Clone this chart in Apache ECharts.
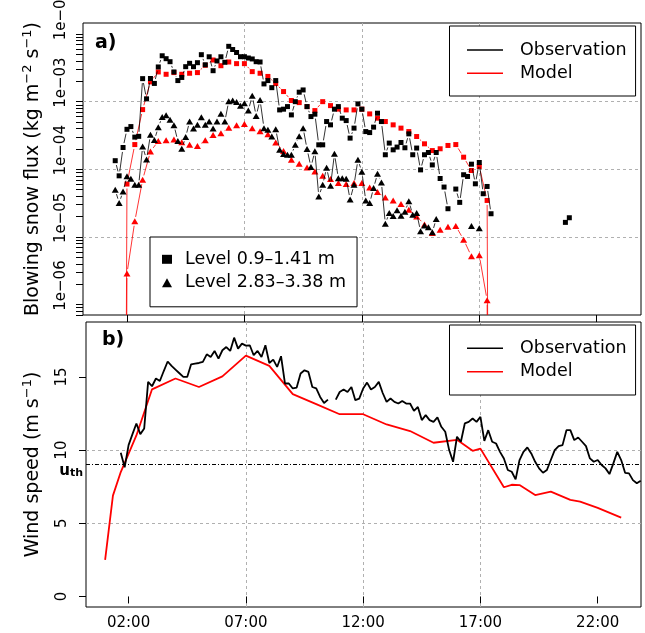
<!DOCTYPE html>
<html><head><meta charset="utf-8">
<script src="https://cdn.jsdelivr.net/npm/echarts@6/dist/echarts.min.js"></script>
<style>html,body{margin:0;padding:0;background:#fff}#c{width:645px;height:633px}</style>
</head><body><div id="c"></div>
<script>
// ---------------- data ----------------
const xTickVals = [2, 7, 12, 17, 22];
const xTickLabels = ['02:00', '07:00', '12:00', '17:00', '22:00'];
const fluxMajorTicks = [1e-6, 1e-5, 1e-4, 1e-3, 1e-2];
const fluxTickLabels = ['1e\u221206', '1e\u221205', '1e\u221204', '1e\u221203', '1e\u221202'];
const fluxMinorMantissas = [2, 3, 4, 5, 6, 7, 8, 9];
const windTicks = [0, 5, 10, 15];
const windTickLabels = ['0', '5', '10', '15'];
const uth = 9.05;

const obsStep = 1 / 6;     // 10-min observations (hours)
const modelStep = 1 / 3;   // 20-min model output (hours)

// observed flux, level 0.9-1.41 m (start 01:30)
const obsL1Start = 1.5;
const obsL1 = [
 1.34e-4, 8.0e-5, 2.10e-4, 3.9e-4, 4.28e-4, 2.99e-4, 3.07e-4, 2.19e-3, 1.10e-3, 2.20e-3,
 1.86e-3, 3.26e-3, 4.77e-3, 4.32e-3, 3.90e-3, 2.75e-3, 2.05e-3, 2.28e-3, 3.29e-3, 3.69e-3,
 3.29e-3, 3.77e-3, 4.95e-3, 3.51e-3, 4.61e-3, 2.87e-3, 4.0e-3, 4.61e-3, 3.82e-3, 6.58e-3,
 5.90e-3, 5.33e-3, 4.62e-3, 4.62e-3, 4.42e-3, 4.28e-3, 3.90e-3, 3.86e-3, 1.83e-3, 2.05e-3,
 1.61e-3, 2.05e-3, 7.55e-4, 7.74e-4, 8.45e-4, 6.37e-4, 1.0e-3, 1.38e-3, 1.49e-3, 8.45e-4,
 6.02e-4, 6.53e-4, 2.30e-4, 2.30e-4, 5.08e-4, 4.54e-4, 7.74e-4, 8.45e-4, 5.70e-4, 5.25e-4,
 2.89e-4, 4.06e-4, 9.27e-4, 7.74e-4, 3.61e-4, 3.49e-4, 4.20e-4, 6.75e-4, 5.08e-4, 1.64e-4,
 2.44e-4, 1.94e-4, 2.13e-4, 2.49e-4, 2.08e-4, 3.34e-4, 1.64e-4, 2.06e-4, 9.8e-5, 1.64e-4,
 1.77e-4, 1.16e-4, 1.77e-4, 7.31e-5, 5.46e-5, 2.61e-5, null, 5.1e-5, 3.24e-5, 8.3e-5,
 7.83e-5, 1.19e-4, 6.1e-5, 1.26e-4, 4.35e-5, 5.57e-5, 2.2e-5,
 null, null, null, null, null, null, null, null, null, null, null, null, null, null, null, null, null, null,
 1.64e-5, 1.92e-5
];
// observed flux, level 2.83-3.38 m (start 01:30)
const obsL2Start = 1.5;
const obsL2 = [
 4.98e-5, 3.17e-5, 4.70e-5, 7.88e-5, 7.24e-5, 5.90e-5, 5.90e-5, 2.17e-4, 1.40e-4, 3.23e-4,
 2.70e-4, 4.17e-4, 5.92e-4, 6.31e-4, 5.38e-4, 4.49e-4, 2.61e-4, 2.01e-4, 3.0e-4, 5.08e-4,
 4.0e-4, 4.54e-4, 5.86e-4, 4.54e-4, 5.08e-4, 4.0e-4, 5.08e-4, 6.64e-4, 5.08e-4, 1.015e-3,
 1.04e-3, 9.85e-4, 8.71e-4, 9.48e-4, 7.38e-4, 1.22e-3, 6.16e-4, 1.06e-3, 4.06e-4, 3.83e-4,
 3.05e-4, 3.92e-4, 1.94e-4, 1.68e-4, 1.64e-4, 1.64e-4, 2.30e-4, 3.09e-4, 4.06e-4, 1.99e-4,
 1.08e-4, 1.84e-4, 3.97e-5, 5.90e-5, 1.05e-4, 5.71e-5, 1.69e-4, 7.36e-5, 7.36e-5, 7.24e-5,
 3.58e-5, 5.90e-5, 1.38e-4, 9.19e-5, 3.45e-5, 3.17e-5, 5.28e-5, 8.59e-5, 6.38e-5, 1.56e-5,
 2.26e-5, 2.04e-5, 2.47e-5, 2.06e-5, 2.36e-5, 3.37e-5, 2.13e-5, 2.26e-5, 1.21e-5, 1.48e-5,
 1.39e-5, 1.17e-5, 1.84e-5, null, null, null, null, null, null, null, null, 1.45e-5, null, 1.34e-5
];
// modelled flux (start 01:40); the first/last entries are ~zero (drop off the log axis)
const modelL1Start = 1 + 2 / 3;
const modelL1 = [
 1e-30, 6.05e-5, 2.32e-4, 7.63e-4, 1.96e-3, 2.75e-3, 2.54e-3, 2.69e-3, 2.54e-3, 2.63e-3,
 2.69e-3, 3.45e-3, 4.13e-3, 3.40e-3, 3.86e-3, 3.65e-3, 3.65e-3, 2.78e-3, 2.63e-3, 2.36e-3,
 1.85e-3, 1.41e-3, 1.04e-3, 9.68e-4, 8.45e-4, 7.38e-4, 1.0e-3, 8.74e-4, 7.76e-4, 7.55e-4,
 7.55e-4, 7.74e-4, 6.59e-4, 5.70e-4, 5.08e-4, 4.54e-4, 4.06e-4, 3.61e-4, 3.05e-4, 2.38e-4,
 1.89e-4, 2.01e-4, 2.25e-4, 2.32e-4, 1.51e-4, 9.6e-5, 1.10e-4, 3.46e-5, 1e-30
];
const modelL2Start = 1 + 2 / 3;
const modelL2 = [
 1e-30, 2.87e-6, 1.70e-5, 7.0e-5, 1.83e-4, 2.61e-4, 2.68e-4, 2.75e-4, 2.50e-4, 2.30e-4,
 2.20e-4, 2.68e-4, 3.20e-4, 3.42e-4, 4.12e-4, 4.46e-4, 4.69e-4, 4.06e-4, 3.66e-4, 3.29e-4,
 2.49e-4, 1.86e-4, 1.38e-4, 1.21e-4, 1.06e-4, 9.28e-5, 8.02e-5, 7.17e-5, 6.26e-5, 6.05e-5,
 6.26e-5, 6.26e-5, 5.39e-5, 4.61e-5, 3.82e-5, 3.45e-5, 3.06e-5, 2.52e-5, 2.01e-5, 1.53e-5,
 1.14e-5, 1.28e-5, 1.41e-5, 1.45e-5, 9.1e-6, 5.16e-6, 5.34e-6, 1.16e-6, 1e-30
];
// observed wind speed (start 01:40, 10-min)
const windObsStart = 1 + 2 / 3;
const windObs = [
 9.82, 8.82, 10.34, 11.09, 11.82, 11.09, 11.48, 14.66, 14.36, 14.89,
 14.72, 15.4, 16.05, 15.75, 15.5, 15.25, 15.0, 15.0, 15.86, 15.91,
 15.95, 16.02, 16.54, 16.36, 16.77, 16.25, 16.82, 17.04, 16.77, 17.68,
 16.93, 17.27, 17.14, 17.16, 16.48, 16.77, 16.36, 17.16, 15.95, 16.18,
 15.68, 16.41, 14.55, 14.55, 14.21, 14.27, 15.23, 15.45, 15.34, 14.31,
 14.21, 13.63, 13.22, 13.45, null, 13.45, 13.97, 14.14, 13.97, 14.31,
 13.41, 13.52, 14.21, 14.61, 14.14, 14.31, 14.66, 13.9, 13.29, 13.52,
 13.29, 13.18, 13.36, 13.18, 13.18, 12.68, 12.95, 12.05, 12.39, 12.05,
 11.93, 12.23, 11.59, 11.25, 10.0, 9.2, 10.91, 10.57, 11.82, 11.93,
 12.16, 11.93, 12.27, 10.63, 11.36, 10.57, 10.45, 9.88, 9.43, 8.64,
 8.52, 8.0, 9.32, 9.88, 10.18, 9.77, 9.2, 8.75, 8.45, 8.64,
 9.32, 10.0, 10.27, 10.34, 11.36, 11.36, 10.68, 10.86, 10.57, 10.27,
 9.43, 9.2, 9.32, 8.98, 8.75, 8.36, 9.09, 9.88, 9.32, 8.45,
 8.41, 7.95, 7.73, 7.91
];
// modelled wind speed (vertices)
const windModelT = [1.0, 1.333, 1.667, 2.333, 3, 4, 5, 6, 7, 8, 9, 10, 11, 12, 13, 14, 15, 16, 16.667, 17, 18, 18.333, 18.667, 19.333, 20, 20.833, 21.25, 22, 23];
const windModelV = [2.5, 6.89, 8.5, 11.0, 14.15, 14.89, 14.31, 15.04, 16.45, 15.75, 13.82, 13.14, 12.45, 12.45, 11.75, 11.3, 10.5, 10.7, 9.95, 10.1, 7.46, 7.63, 7.61, 6.93, 7.16, 6.6, 6.48, 6.05, 5.39];

// ---------------- build ----------------
const FONT = 'DejaVu Sans';
const toPairs = (start, step, vals) => vals.map((v, i) => [start + i * step, v]);
const fluxAllTicks = [];
for (let e = -7; e <= -2; e++) {
  fluxAllTicks.push(Math.pow(10, e));
  fluxMinorMantissas.forEach(m => fluxAllTicks.push(m * Math.pow(10, e)));
}
const fluxLabel = v => {
  const i = fluxMajorTicks.findIndex(t => Math.abs(Math.log10(t) - Math.log10(v)) < 1e-6);
  return i >= 0 ? fluxTickLabels[i] : '';
};
const gridLine = { show: true, showMinLine: false, showMaxLine: false, lineStyle: { color: '#b0b0b0', type: [3, 3], width: 1 } };
const tickStyle = { color: '#000', width: 1 };
const legendText = { fontFamily: FONT, fontSize: 17.5, lineHeight: 21, color: '#000', padding: [0, 0, 0, 12] };
const fluxMin = 7.0e-7, fluxMax = 0.01456;

// R-style "type='b'" connecting lines: segments between consecutive points, leaving a gap round each point
const GAP = 4.5;
function segmentsOf(pairs) {
  const segs = [];
  for (let i = 0; i < pairs.length - 1; i++) {
    const a = pairs[i], b = pairs[i + 1];
    if (a[1] != null && b[1] != null) segs.push([a[0], a[1], b[0], b[1]]);
  }
  return segs;
}
function gapLineSeries(pairs, color, z) {
  return {
    type: 'custom', xAxisIndex: 0, yAxisIndex: 0, clip: true, silent: true, z: z,
    data: segmentsOf(pairs), encode: { x: [0, 2], y: [1, 3] },
    renderItem: (params, api) => {
      const p1 = api.coord([api.value(0), api.value(1)]);
      const p2 = api.coord([api.value(2), api.value(3)]);
      const dx = p2[0] - p1[0], dy = p2[1] - p1[1];
      const d = Math.sqrt(dx * dx + dy * dy);
      if (!(d > 2 * GAP)) return { type: 'group', children: [] };
      const ux = dx / d, uy = dy / d;
      return { type: 'line', shape: { x1: p1[0] + ux * GAP, y1: p1[1] + uy * GAP, x2: p2[0] - ux * GAP, y2: p2[1] - uy * GAP },
               style: { stroke: color, lineWidth: 0.8, fill: null } };
    }
  };
}

const mL1 = toPairs(modelL1Start, modelStep, modelL1);
const mL2 = toPairs(modelL2Start, modelStep, modelL2);
const oL1 = toPairs(obsL1Start, obsStep, obsL1);
const oL2 = toPairs(obsL2Start, obsStep, obsL2);

const option = {
  animation: false,
  backgroundColor: '#fff',
  textStyle: { fontFamily: FONT, color: '#000' },
  title: [
    { text: 'a)', left: 95, top: 34, padding: 0, textStyle: { fontFamily: FONT, fontSize: 19, fontWeight: 'bold', color: '#000' } },
    { text: 'b)', left: 102, top: 331, padding: 0, textStyle: { fontFamily: FONT, fontSize: 19, fontWeight: 'bold', color: '#000' } }
  ],
  grid: [
    { left: 83, right: 4, top: 23, height: 292, show: true, borderColor: '#000', borderWidth: 1, backgroundColor: 'transparent', outerBoundsMode: 'none', containLabel: false },
    { left: 86, right: 4, top: 322, height: 285, show: true, borderColor: '#000', borderWidth: 1, backgroundColor: 'transparent', outerBoundsMode: 'none', containLabel: false }
  ],
  xAxis: [
    { gridIndex: 0, type: 'value', min: 0.128, max: 23.885, axisLine: { show: false },
      axisTick: { show: true, customValues: xTickVals, length: 7, lineStyle: tickStyle },
      axisLabel: { show: false, customValues: xTickVals }, splitLine: gridLine },
    { gridIndex: 1, type: 'value', min: 0.185, max: 23.845, axisLine: { show: false },
      axisTick: { show: true, customValues: xTickVals, length: 7, lineStyle: tickStyle },
      axisLabel: { customValues: xTickVals, formatter: v => xTickLabels[xTickVals.indexOf(v)] || '', fontFamily: FONT, fontSize: 15, color: '#000', margin: 9 },
      splitLine: gridLine }
  ],
  yAxis: [
    { gridIndex: 0, type: 'log', min: fluxMin, max: fluxMax, position: 'left', axisLine: { show: false },
      axisTick: { show: true, customValues: fluxAllTicks, length: 7, lineStyle: tickStyle },
      axisLabel: { customValues: fluxMajorTicks, formatter: fluxLabel, rotate: 90, fontFamily: FONT, fontSize: 15, color: '#000', margin: 14, padding: [0, 0, 0, 38] },
      splitLine: { show: false },
      name: '{n|Blowing snow flux (kg m}{s|\u22122}{n| s}{s|\u22121}{n|)}', nameLocation: 'middle', nameRotate: 90, nameGap: 40,
      nameTextStyle: { fontFamily: FONT, color: '#000', rich: {
        n: { fontFamily: FONT, fontSize: 19, lineHeight: 22, verticalAlign: 'bottom', color: '#000' },
        s: { fontFamily: FONT, fontSize: 13, lineHeight: 8, verticalAlign: 'top', color: '#000' } } } },
    { gridIndex: 0, type: 'log', min: fluxMin, max: fluxMax, position: 'right', axisLine: { show: false },
      axisTick: { show: false, customValues: fluxMajorTicks }, axisLabel: { show: false, customValues: fluxMajorTicks },
      splitLine: gridLine },
    { gridIndex: 1, type: 'value', min: -0.72, max: 18.75, position: 'left', axisLine: { show: false },
      axisTick: { show: true, customValues: windTicks, length: 7, lineStyle: tickStyle },
      axisLabel: { customValues: windTicks, formatter: v => windTickLabels[windTicks.indexOf(v)] || '', rotate: 90, fontFamily: FONT, fontSize: 15, color: '#000', margin: 16 },
      splitLine: gridLine,
      name: '{n|Wind speed (m s}{s|\u22121}{n|)}', nameLocation: 'middle', nameRotate: 90, nameGap: 43,
      nameTextStyle: { fontFamily: FONT, color: '#000', rich: {
        n: { fontFamily: FONT, fontSize: 19, lineHeight: 22, verticalAlign: 'bottom', color: '#000' },
        s: { fontFamily: FONT, fontSize: 13, lineHeight: 8, verticalAlign: 'top', color: '#000' } } } }
  ],
  legend: [
    { data: ['Observation', 'Model'], orient: 'vertical', left: 449.5, top: 26, icon: 'rect', itemWidth: 36, itemHeight: 1.5,
      symbolKeepAspect: false, itemGap: 2.3, padding: [13.5, 9, 12.2, 17.5], borderColor: '#000', borderWidth: 1, borderRadius: 0,
      backgroundColor: '#fff', textStyle: legendText, selectedMode: false },
    { data: ['Observation', 'Model'], orient: 'vertical', left: 449.5, top: 325, icon: 'rect', itemWidth: 36, itemHeight: 1.5,
      symbolKeepAspect: false, itemGap: 2.4, padding: [12.8, 9, 12.8, 17.5], borderColor: '#000', borderWidth: 1, borderRadius: 0,
      backgroundColor: '#fff', textStyle: legendText, selectedMode: false },
    { data: [{ name: 'Level 0.9\u20131.41 m', icon: 'rect' }, { name: 'Level 2.83\u20133.38 m', icon: 'triangle' }],
      orient: 'vertical', left: 150, top: 237, itemWidth: 10, itemHeight: 9, symbolKeepAspect: true, itemGap: 2.4,
      padding: [11.8, 11, 13.6, 12], borderColor: '#000', borderWidth: 1, borderRadius: 0, backgroundColor: '#fff',
      textStyle: Object.assign({}, legendText, { padding: [0, 0, 0, 8] }), selectedMode: false }
  ],
  series: [
    gapLineSeries(mL1, '#ff0000', 2),
    gapLineSeries(mL2, '#ff0000', 2),
    { name: 'Model L1', type: 'scatter', xAxisIndex: 0, yAxisIndex: 0, data: mL1,
      symbol: 'rect', symbolSize: 5, itemStyle: { color: '#ff0000', borderWidth: 0, opacity: 1 }, z: 3 },
    { name: 'Model L2', type: 'scatter', xAxisIndex: 0, yAxisIndex: 0, data: mL2,
      symbol: 'triangle', symbolSize: [7, 6], itemStyle: { color: '#ff0000', borderWidth: 0, opacity: 1 }, z: 3 },
    gapLineSeries(oL1, '#000', 4),
    gapLineSeries(oL2, '#000', 4),
    { name: 'Level 0.9\u20131.41 m', type: 'scatter', xAxisIndex: 0, yAxisIndex: 0, data: oL1,
      symbol: 'rect', symbolSize: 5, itemStyle: { color: '#000', borderWidth: 0, opacity: 1 }, z: 5 },
    { name: 'Level 2.83\u20133.38 m', type: 'scatter', xAxisIndex: 0, yAxisIndex: 0, data: oL2,
      symbol: 'triangle', symbolSize: [7, 6], itemStyle: { color: '#000', borderWidth: 0, opacity: 1 }, z: 5 },
    { name: 'Observation', type: 'line', xAxisIndex: 1, yAxisIndex: 2, data: toPairs(windObsStart, obsStep, windObs),
      symbol: 'none', itemStyle: { color: '#000' }, lineStyle: { color: '#000', width: 1.8 }, z: 4,
      markLine: { silent: true, symbol: 'none', animation: false, data: [{ yAxis: uth }],
        lineStyle: { color: '#000', type: [4, 2, 1, 2], width: 1 },
        label: { show: true, position: 'start', distance: 3, padding: [12, 0, 0, 0], formatter: '{u|u}{t|th}',
          rich: { u: { fontFamily: FONT, fontSize: 15, fontWeight: 'bold', lineHeight: 18, verticalAlign: 'bottom', color: '#000' },
                  t: { fontFamily: FONT, fontSize: 11, fontWeight: 'bold', lineHeight: 8, verticalAlign: 'bottom', color: '#000' } } } } },
    { name: 'Model', type: 'line', xAxisIndex: 1, yAxisIndex: 2, data: windModelT.map((t, i) => [t, windModelV[i]]),
      symbol: 'none', itemStyle: { color: '#ff0000' }, lineStyle: { color: '#ff0000', width: 1.8 }, z: 3 }
  ]
};
const chart = echarts.init(document.getElementById('c'), null, { renderer: 'canvas' });
chart.setOption(option);
</script>
</body></html>
